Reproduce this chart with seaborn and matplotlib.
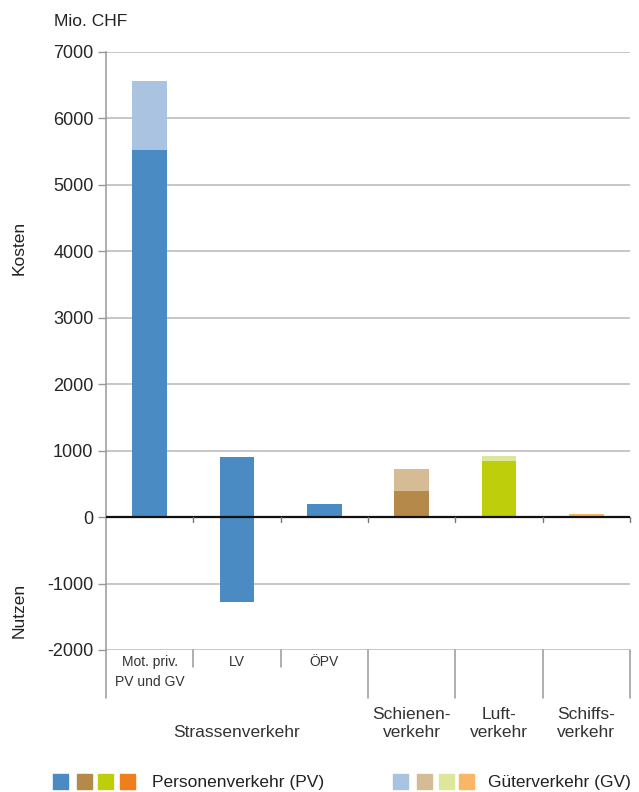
import matplotlib
matplotlib.use("Agg")
import matplotlib.pyplot as plt
import seaborn as sns
import pandas as pd
from matplotlib.patches import Rectangle
from matplotlib.lines import Line2D

# Categories (x order) and their labels
categories = ["Mot. priv. PV und GV", "LV", "ÖPV", "Schienenverkehr", "Luftverkehr", "Schiffsverkehr"]
sub_labels = ["Mot. priv.\nPV und GV", "LV", "ÖPV", "", "", ""]
group_labels = ["Strassenverkehr", "Schienen-\nverkehr", "Luft-\nverkehr", "Schiffs-\nverkehr"]
group_centers = [1.0, 3.0, 4.0, 5.0]

# Costs (positive) and benefits (negative), Mio. CHF
pv_kosten = [5520, 910, 200, 400, 840, 0]
gv_kosten = [1040, 0, 0, 330, 80, 50]
nutzen = [0, -1280, 0, 0, 0, 0]

yticks = [-2000, -1000, 0, 1000, 2000, 3000, 4000, 5000, 6000, 7000]

pv_colors = ["#4a8bc4", "#4a8bc4", "#4a8bc4", "#b5894a", "#bfce0b", "#f07e1a"]
gv_colors = ["#a9c3e1", "#a9c3e1", "#a9c3e1", "#d5bc94", "#dde79a", "#f9b664"]
legend_pv = ["#4a8bc4", "#b5894a", "#bfce0b", "#f07e1a"]
legend_gv = ["#a9c3e1", "#d5bc94", "#dde79a", "#f9b664"]

sns.set_style("white")
plt.rcParams["font.family"] = ["Liberation Sans", "DejaVu Sans"]
plt.rcParams["text.color"] = "#222222"

df = pd.DataFrame({
    "cat": categories,
    "total": [p + g for p, g in zip(pv_kosten, gv_kosten)],
    "pv": pv_kosten,
    "nutzen": nutzen,
})

W, H = 639, 792
fig = plt.figure(figsize=(W / 100, H / 100), dpi=100)
ax = fig.add_axes([106 / W, 1 - 650 / H, (630 - 106) / W, (650 - 52) / H])

# gridlines
for v in yticks:
    ax.axhline(v, color="#b8b8b8", lw=1.1, zorder=0)

common = dict(x="cat", hue="cat", order=categories, hue_order=categories,
              dodge=False, width=0.4, legend=False, ax=ax, saturation=1,
              linewidth=0, zorder=2)
sns.barplot(data=df, y="total", palette=gv_colors, **common)
sns.barplot(data=df, y="pv", palette=pv_colors, **common)
sns.barplot(data=df, y="nutzen", palette=pv_colors, **common)

ax.set_xlim(-0.5, 5.5)
ax.set_ylim(-2000, 7000)
ax.set_yticks(yticks)
ax.set_yticklabels([str(v) for v in yticks], fontsize=13)
ax.set_xticks([])
ax.set_xlabel("")
ax.set_ylabel("")
ax.tick_params(axis="y", direction="out", length=6, width=1, color="#999999", pad=3, left=True)

for s in ["top", "right", "bottom"]:
    ax.spines[s].set_visible(False)
ax.spines["left"].set_color("#999999")
ax.spines["left"].set_linewidth(1.1)

# zero line with small boundary ticks
ax.axhline(0, color="#111111", lw=1.6, zorder=3)
for b in [0.5, 1.5, 2.5, 3.5, 4.5, 5.5]:
    ax.plot([b, b], [0, -80], color="#777777", lw=1, zorder=3, clip_on=False)

# category table below the plot
tr = ax.get_xaxis_transform()
ax.add_line(Line2D([-0.5, -0.5], [0, -48 / 598], transform=tr, color="#999999", lw=1.1, clip_on=False))
for b in [0.5, 1.5]:
    ax.add_line(Line2D([b, b], [0, -17 / 598], transform=tr, color="#999999", lw=1.1, clip_on=False))
for b in [2.5, 3.5, 4.5, 5.5]:
    ax.add_line(Line2D([b, b], [0, -48 / 598], transform=tr, color="#999999", lw=1.1, clip_on=False))

for i, lab in enumerate(sub_labels):
    if lab:
        ax.text(i, -5 / 598, lab, transform=tr, ha="center", va="top", fontsize=10,
                linespacing=1.5, color="#333333")

for c, lab in zip(group_centers, group_labels):
    ax.text(c, -90 / 598, lab, transform=tr, ha="center", va="bottom", fontsize=12.5,
            linespacing=1.25, color="#333333")

# axis annotations
fig.text(54 / W, 1 - 22 / H, "Mio. CHF", ha="left", va="center", fontsize=12.5)
fig.text(19 / W, 1 - 248 / H, "Kosten", ha="center", va="center", rotation=90, fontsize=12.5)
fig.text(19 / W, 1 - 610 / H, "Nutzen", ha="center", va="center", rotation=90, fontsize=12.5)

# legend
def swatches(xs, colors):
    for x0, col in zip(xs, colors):
        fig.patches.append(Rectangle((x0 / W, 1 - 789 / H), 15 / W, 15 / H,
                                     transform=fig.transFigure, color=col, figure=fig))

swatches([53, 77, 98, 120], legend_pv)
swatches([393, 417, 439, 459], legend_gv)
fig.text(152 / W, 1 - 782 / H, "Personenverkehr (PV)", ha="left", va="center", fontsize=12.5)
fig.text(488 / W, 1 - 782 / H, "Güterverkehr (GV)", ha="left", va="center", fontsize=12.5)

fig.savefig("out.png", dpi=100)
